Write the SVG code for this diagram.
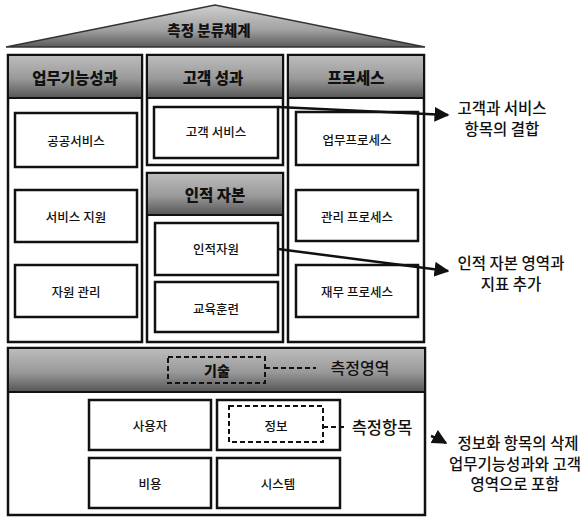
<svg xmlns="http://www.w3.org/2000/svg" width="582" height="517" viewBox="0 0 582 517">
<style>
text{font-family:"Noto Sans CJK KR","Noto Sans",sans-serif;fill:#111;text-anchor:middle;dominant-baseline:central}
.box{fill:#fff;stroke:#111;stroke-width:2.5}
.col{fill:#fff;stroke:#111;stroke-width:2.5}
.hdr{fill:url(#g);stroke:#111;stroke-width:2}
.h{font-size:15.5px;font-weight:900}
.l{font-size:12.5px;font-weight:500}
.a{font-size:15.5px;font-weight:500}
.dash{fill:none;stroke:#111;stroke-width:2;stroke-dasharray:5 3}
.conn{fill:none;stroke:#111;stroke-width:2.5}
</style>
<defs>
<linearGradient id="g" x1="0" y1="0" x2="0" y2="1">
<stop offset="0" stop-color="#bdbdbd"/><stop offset="0.55" stop-color="#999"/><stop offset="1" stop-color="#555"/>
</linearGradient>
<linearGradient id="r" x1="0" y1="0" x2="0" y2="1">
<stop offset="0" stop-color="#cfcfcf"/><stop offset="0.6" stop-color="#a0a0a0"/><stop offset="1" stop-color="#5a5a5a"/>
</linearGradient>
<marker id="ah" viewBox="0 0 10 10" refX="9" refY="5" markerWidth="6" markerHeight="6" orient="auto" markerUnits="strokeWidth">
<path d="M0,0 L10,5 L0,10 z" fill="#111"/>
</marker>
</defs>

<g id="roof">
<path d="M6,47 L215,5 L425,47 Z" fill="url(#r)" stroke="#333" stroke-width="1.5"/>
<text x="209" y="29" class="h" style="font-size:14.5px">측정 분류체계</text>
</g>

<g id="col-work">
<rect class="col" x="8" y="55" width="134" height="287"/>
<rect class="hdr" x="8" y="55" width="134" height="43"/>
<text x="75" y="77" class="h">업무기능성과</text>
</g>
<g id="n-public"><rect class="box" x="15" y="113" width="122" height="54"/><text x="76" y="140" class="l">공공서비스</text></g>
<g id="n-svcsupport"><rect class="box" x="15" y="190" width="122" height="52"/><text x="76" y="216" class="l">서비스 지원</text></g>
<g id="n-resmgmt"><rect class="box" x="15" y="265" width="122" height="52"/><text x="76" y="291" class="l">자원 관리</text></g>

<g id="col-customer">
<rect class="col" x="147" y="55" width="136" height="110"/>
<rect class="hdr" x="147" y="55" width="136" height="43"/>
<text x="213" y="77" class="h">고객 성과</text>
</g>
<g id="n-custsvc"><rect class="box" x="154" y="107" width="124" height="51"/><text x="216" y="131" class="l">고객 서비스</text></g>

<g id="col-human">
<rect class="col" x="147" y="173" width="136" height="169"/>
<rect class="hdr" x="147" y="173" width="136" height="42"/>
<text x="215" y="194" class="h">인적 자본</text>
</g>
<g id="n-hr"><rect class="box" x="155" y="223" width="123" height="52"/><text x="216" y="248" class="l">인적자원</text></g>
<g id="n-edu"><rect class="box" x="155" y="282" width="123" height="50"/><text x="216" y="308" class="l">교육훈련</text></g>

<g id="col-process">
<rect class="col" x="288" y="55" width="136" height="287"/>
<rect class="hdr" x="288" y="55" width="136" height="43"/>
<text x="356" y="77" class="h">프로세스</text>
</g>
<g id="n-bizproc"><rect class="box" x="296" y="112" width="122" height="53"/><text x="357" y="139" class="l">업무프로세스</text></g>
<g id="n-mgmtproc"><rect class="box" x="296" y="190" width="122" height="51"/><text x="357" y="216" class="l">관리 프로세스</text></g>
<g id="n-finproc"><rect class="box" x="296" y="265" width="122" height="52"/><text x="357" y="291" class="l">재무 프로세스</text></g>

<g id="sec-tech">
<rect class="col" x="8" y="348" width="417" height="167"/>
<rect x="8" y="348" width="417" height="44" fill="url(#g)" stroke="#111" stroke-width="2"/>
<rect class="dash" x="168" y="357" width="97" height="26"/>
<text x="217" y="370" class="h" style="font-size:14px">기술</text>
<text x="360" y="367" class="a" style="font-size:16px">측정영역</text>
</g>
<g id="n-user"><rect class="box" x="89" y="400" width="122" height="50"/><text x="150" y="425" class="l">사용자</text></g>
<g id="n-info"><rect class="box" x="217" y="400" width="123" height="50"/><rect class="dash" x="229" y="406" width="94" height="36"/><text x="276" y="425" class="l">정보</text><text x="382" y="427" class="a" style="font-size:16.5px">측정항목</text></g>
<g id="n-cost"><rect class="box" x="89" y="458" width="122" height="50"/><text x="150" y="483" class="l">비용</text></g>
<g id="n-system"><rect class="box" x="217" y="458" width="123" height="50"/><text x="278" y="483" class="l">시스템</text></g>

<g id="notes">
<text x="502" y="107" class="a">고객과 서비스</text>
<text x="502" y="128" class="a">항목의 결합</text>
<text x="511" y="262" class="a">인적 자본 영역과</text>
<text x="511" y="283" class="a">지표 추가</text>
<text x="518" y="442" class="a">정보화 항목의 삭제</text>
<text x="515" y="463" class="a">업무기능성과와 고객</text>
<text x="515" y="483" class="a">영역으로 포함</text>
</g>

<g id="connectors">
<path class="conn" d="M278,107 L448,115" marker-end="url(#ah)"/>
<path class="conn" d="M278,249 L448,271" marker-end="url(#ah)"/>
<path class="conn" d="M431,436 Q437,438 446,443" marker-end="url(#ah)"/>
<path class="dash" d="M265,368 L316,368" stroke-width="1.5"/>
<path class="dash" d="M323,427 L345,427" stroke-width="1.5"/>
</g>
</svg>
